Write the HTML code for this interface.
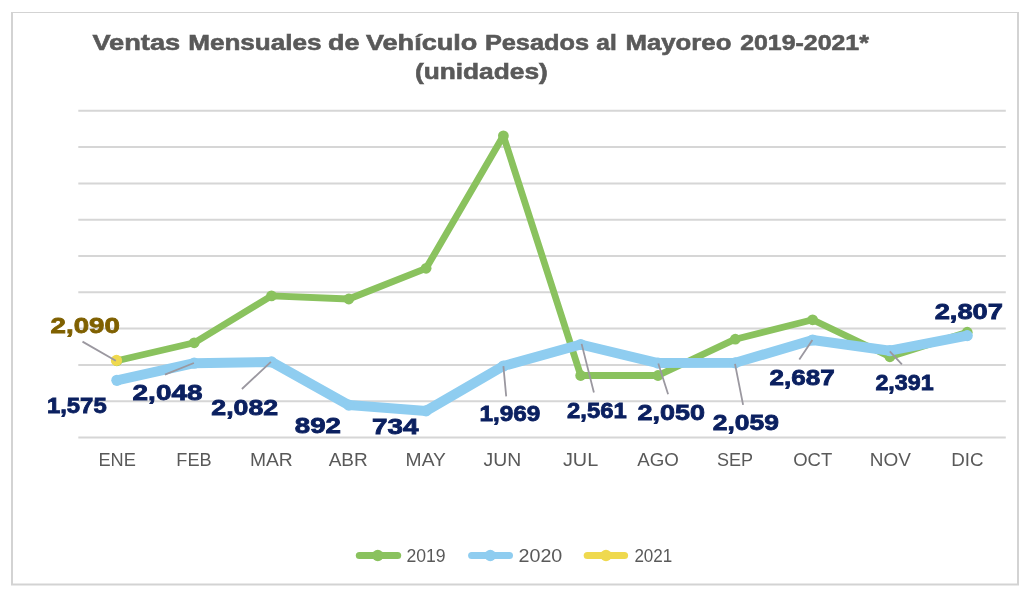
<!DOCTYPE html>
<html lang="es"><head><meta charset="utf-8"><title>Ventas Mensuales de Vehículo Pesados al Mayoreo 2019-2021</title>
<style>html,body{margin:0;padding:0;background:#fff;overflow:hidden}svg{display:block}text{font-family:"Liberation Sans",sans-serif}.t{font-weight:bold;font-size:22.8px;fill:#595959;stroke:#595959;stroke-width:.6px}.c{font-size:18px;fill:#595959}.d{font-weight:bold;font-size:22.4px;fill:#0b2060;stroke:#0b2060;stroke-width:.8px}</style></head><body>
<svg width="1031" height="595" viewBox="0 0 1031 595">
<rect width="1031" height="595" fill="#fff"/>
<path d="M12 12V585M1018 12V585M11 584.5H1019" fill="none" stroke="#d3d3d3" stroke-width="2"/><path d="M11 12.5H1019" fill="none" stroke="#d3d3d3" stroke-width="1.2"/>
<line x1="78.3" y1="437.50" x2="1005.8" y2="437.50" stroke="#d6d6d6" stroke-width="2"/>
<line x1="78.3" y1="401.20" x2="1005.8" y2="401.20" stroke="#d6d6d6" stroke-width="2"/>
<line x1="78.3" y1="364.90" x2="1005.8" y2="364.90" stroke="#d6d6d6" stroke-width="2"/>
<line x1="78.3" y1="328.60" x2="1005.8" y2="328.60" stroke="#d6d6d6" stroke-width="2"/>
<line x1="78.3" y1="292.30" x2="1005.8" y2="292.30" stroke="#d6d6d6" stroke-width="2"/>
<line x1="78.3" y1="256.00" x2="1005.8" y2="256.00" stroke="#d6d6d6" stroke-width="2"/>
<line x1="78.3" y1="219.70" x2="1005.8" y2="219.70" stroke="#d6d6d6" stroke-width="2"/>
<line x1="78.3" y1="183.40" x2="1005.8" y2="183.40" stroke="#d6d6d6" stroke-width="2"/>
<line x1="78.3" y1="147.10" x2="1005.8" y2="147.10" stroke="#d6d6d6" stroke-width="2"/>
<line x1="78.3" y1="110.80" x2="1005.8" y2="110.80" stroke="#d6d6d6" stroke-width="2"/>
<text class="t" y="49.6"><tspan x="92.4" textLength="87.8" lengthAdjust="spacingAndGlyphs">Ventas</tspan><tspan x="188.2" textLength="133.4" lengthAdjust="spacingAndGlyphs">Mensuales</tspan><tspan x="328.0" textLength="31.4" lengthAdjust="spacingAndGlyphs">de</tspan><tspan x="366.0" textLength="111.3" lengthAdjust="spacingAndGlyphs">Vehículo</tspan><tspan x="484.9" textLength="104.2" lengthAdjust="spacingAndGlyphs">Pesados</tspan><tspan x="596.3" textLength="20.4" lengthAdjust="spacingAndGlyphs">al</tspan><tspan x="625.5" textLength="105.9" lengthAdjust="spacingAndGlyphs">Mayoreo</tspan><tspan x="740.2" textLength="128.7" lengthAdjust="spacingAndGlyphs">2019-2021*</tspan></text>
<text class="t" x="414.9" y="79" textLength="132.9" lengthAdjust="spacingAndGlyphs">(unidades)</text>
<polyline points="116.9,360.8 194.2,342.8 271.5,295.9 348.8,299.0 426.1,268.3 503.4,135.8 580.7,375.5 658.0,375.5 735.3,339.2 812.6,319.8 889.9,356.8 967.2,332.2" fill="none" stroke="#8ac25e" stroke-width="6.8" stroke-linejoin="round" stroke-linecap="round"/>
<circle cx="116.9" cy="360.8" r="5.4" fill="#8ac25e"/>
<circle cx="194.2" cy="342.8" r="5.4" fill="#8ac25e"/>
<circle cx="271.5" cy="295.9" r="5.4" fill="#8ac25e"/>
<circle cx="348.8" cy="299.0" r="5.4" fill="#8ac25e"/>
<circle cx="426.1" cy="268.3" r="5.4" fill="#8ac25e"/>
<circle cx="503.4" cy="135.8" r="5.4" fill="#8ac25e"/>
<circle cx="580.7" cy="375.5" r="5.4" fill="#8ac25e"/>
<circle cx="658.0" cy="375.5" r="5.4" fill="#8ac25e"/>
<circle cx="735.3" cy="339.2" r="5.4" fill="#8ac25e"/>
<circle cx="812.6" cy="319.8" r="5.4" fill="#8ac25e"/>
<circle cx="889.9" cy="356.8" r="5.4" fill="#8ac25e"/>
<circle cx="967.2" cy="332.2" r="5.4" fill="#8ac25e"/>
<polyline points="116.9,380.3 194.2,363.2 271.5,361.9 348.8,405.1 426.1,410.9 503.4,366.0 580.7,344.5 658.0,363.1 735.3,362.8 812.6,340.0 889.9,350.7 967.2,335.6" fill="none" stroke="#8fcdf0" stroke-width="10" stroke-linejoin="round" stroke-linecap="round"/>
<circle cx="116.9" cy="380.3" r="5.6" fill="#8fcdf0"/>
<circle cx="194.2" cy="363.2" r="5.6" fill="#8fcdf0"/>
<circle cx="271.5" cy="361.9" r="5.6" fill="#8fcdf0"/>
<circle cx="348.8" cy="405.1" r="5.6" fill="#8fcdf0"/>
<circle cx="426.1" cy="410.9" r="5.6" fill="#8fcdf0"/>
<circle cx="503.4" cy="366.0" r="5.6" fill="#8fcdf0"/>
<circle cx="580.7" cy="344.5" r="5.6" fill="#8fcdf0"/>
<circle cx="658.0" cy="363.1" r="5.6" fill="#8fcdf0"/>
<circle cx="735.3" cy="362.8" r="5.6" fill="#8fcdf0"/>
<circle cx="812.6" cy="340.0" r="5.6" fill="#8fcdf0"/>
<circle cx="889.9" cy="350.7" r="5.6" fill="#8fcdf0"/>
<circle cx="967.2" cy="335.6" r="5.6" fill="#8fcdf0"/>
<circle cx="116.5" cy="360.4" r="5.6" fill="#efd94e"/>
<path d="M82.5 341.6L115.8 360.8M164.9 374.7L193.9 363.0M241.9 389.0L270.9 361.8M503.4 366.1L506.2 396.3M581.6 343.9L593.9 392.5M658.3 363.6L668.1 394.3M735.0 363.9L743.1 404.8M812.4 339.9L799.3 359.4M889.8 351.3L901.9 364.4" fill="none" stroke="#9b98a0" stroke-width="1.8"/>
<text class="d" x="50.6" y="332.7" textLength="69.2" lengthAdjust="spacingAndGlyphs" style="fill:#7f6000;stroke:#7f6000">2,090</text>
<text class="d" x="46.9" y="413.4" textLength="59.8" lengthAdjust="spacingAndGlyphs">1,575</text>
<text class="d" x="132.6" y="400.3" textLength="69.9" lengthAdjust="spacingAndGlyphs">2,048</text>
<text class="d" x="211.3" y="414.7" textLength="66.9" lengthAdjust="spacingAndGlyphs">2,082</text>
<text class="d" x="294.8" y="433.3" textLength="46.2" lengthAdjust="spacingAndGlyphs">892</text>
<text class="d" x="372.0" y="434.1" textLength="46.5" lengthAdjust="spacingAndGlyphs">734</text>
<text class="d" x="479.4" y="421.2" textLength="61.0" lengthAdjust="spacingAndGlyphs">1,969</text>
<text class="d" x="567.1" y="418.2" textLength="59.6" lengthAdjust="spacingAndGlyphs">2,561</text>
<text class="d" x="637.5" y="420.2" textLength="67.6" lengthAdjust="spacingAndGlyphs">2,050</text>
<text class="d" x="712.7" y="429.9" textLength="66.2" lengthAdjust="spacingAndGlyphs">2,059</text>
<text class="d" x="769.5" y="385.2" textLength="65.3" lengthAdjust="spacingAndGlyphs">2,687</text>
<text class="d" x="875.4" y="390.0" textLength="58.3" lengthAdjust="spacingAndGlyphs">2,391</text>
<text class="d" x="934.7" y="319.4" textLength="68.3" lengthAdjust="spacingAndGlyphs">2,807</text>
<text class="c" x="98.4" y="466" textLength="37.4" lengthAdjust="spacingAndGlyphs">ENE</text>
<text class="c" x="176.3" y="466" textLength="35.3" lengthAdjust="spacingAndGlyphs">FEB</text>
<text class="c" x="249.9" y="466" textLength="42.8" lengthAdjust="spacingAndGlyphs">MAR</text>
<text class="c" x="328.7" y="466" textLength="39.0" lengthAdjust="spacingAndGlyphs">ABR</text>
<text class="c" x="405.6" y="466" textLength="40.3" lengthAdjust="spacingAndGlyphs">MAY</text>
<text class="c" x="483.5" y="466" textLength="37.7" lengthAdjust="spacingAndGlyphs">JUN</text>
<text class="c" x="562.9" y="466" textLength="35.3" lengthAdjust="spacingAndGlyphs">JUL</text>
<text class="c" x="637.3" y="466" textLength="41.6" lengthAdjust="spacingAndGlyphs">AGO</text>
<text class="c" x="717.0" y="466" textLength="36.1" lengthAdjust="spacingAndGlyphs">SEP</text>
<text class="c" x="793.2" y="466" textLength="39.0" lengthAdjust="spacingAndGlyphs">OCT</text>
<text class="c" x="869.7" y="466" textLength="41.1" lengthAdjust="spacingAndGlyphs">NOV</text>
<text class="c" x="951.2" y="466" textLength="32.3" lengthAdjust="spacingAndGlyphs">DIC</text>
<line x1="359.4" y1="555.5" x2="397.6" y2="555.5" stroke="#8ac25e" stroke-width="7.2" stroke-linecap="round"/>
<circle cx="377.8" cy="555.5" r="5.7" fill="#8ac25e"/>
<text class="c" x="406.4" y="561.5" textLength="39.2" lengthAdjust="spacingAndGlyphs">2019</text>
<line x1="471.7" y1="555.5" x2="509.4" y2="555.5" stroke="#8fcdf0" stroke-width="7.2" stroke-linecap="round"/>
<circle cx="490.3" cy="555.5" r="5.7" fill="#8fcdf0"/>
<text class="c" x="518.5" y="561.5" textLength="43.8" lengthAdjust="spacingAndGlyphs">2020</text>
<line x1="587.3" y1="555.5" x2="624.5" y2="555.5" stroke="#efd94e" stroke-width="7.2" stroke-linecap="round"/>
<circle cx="606.0" cy="555.5" r="5.7" fill="#efd94e"/>
<text class="c" x="634.4" y="561.5" textLength="37.9" lengthAdjust="spacingAndGlyphs">2021</text>
</svg></body></html>
